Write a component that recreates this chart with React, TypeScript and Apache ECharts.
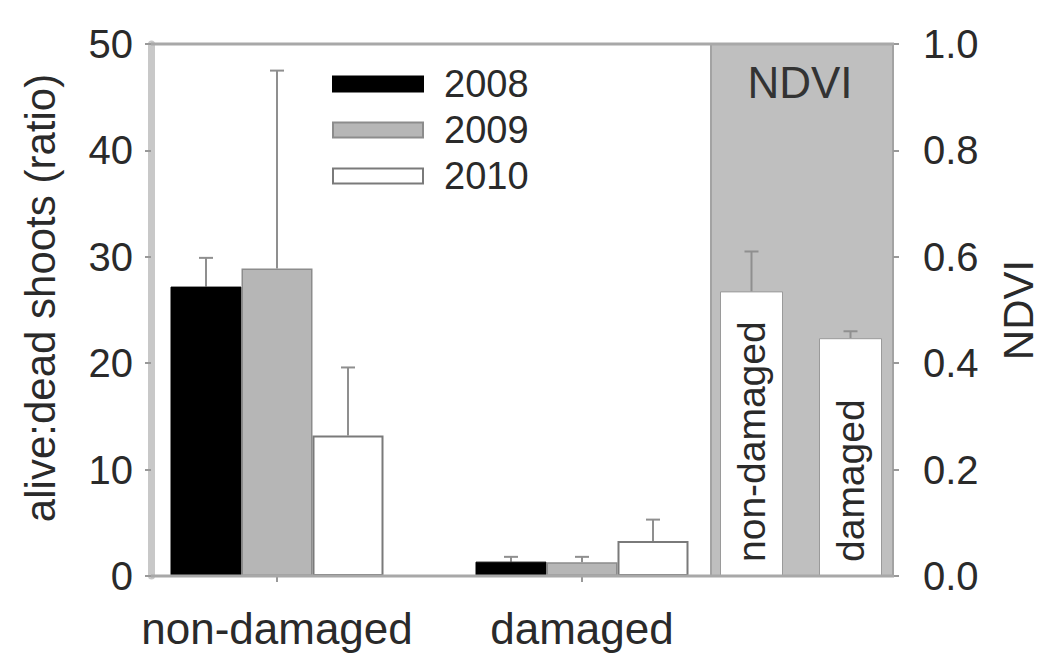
import React, { useEffect, useRef } from "react";
import * as echarts from "echarts";

// ---- data ----
const categories = ["non-damaged", "damaged"];
const years = ["2008", "2009", "2010"];
const ratio2008 = [27.2, 1.35];
const ratio2009 = [28.9, 1.3];
const ratio2010 = [13.2, 3.3];
const err2008 = [2.7, 0.45];
const err2009 = [18.6, 0.5];
const err2010 = [6.4, 2.0];
const ndviCategories = ["non-damaged", "damaged"];
const ndviValues = [0.535, 0.447];
const ndviErr = [0.075, 0.013];
const ratioAxis = { min: 0, max: 50, interval: 10 };
const ndviAxis = { min: 0, max: 1, interval: 0.2 };

const FONT = "'Liberation Sans', Arial, sans-serif";
const TXT = "#2a2a2a";
const BAR_W = 71;
const NDVI_BAR_W = 63;

const yearStyles = [
  { color: "#000000", borderColor: "#000000", borderWidth: 1 },
  { color: "#b6b6b6", borderColor: "#8c8c8c", borderWidth: 1.5 },
  { color: "#ffffff", borderColor: "#7a7a7a", borderWidth: 2 },
];

function errSeries(name: string, vals: number[], errs: number[], offset: number, xIdx: number, yIdx: number) {
  return {
    type: "custom",
    name: name,
    xAxisIndex: xIdx,
    yAxisIndex: yIdx,
    silent: true,
    z: 1,
    encode: { x: 0, y: 1 },
    data: vals.map((v, i) => [i, v, errs[i]]),
    renderItem: (params: any, api: any) => {
      const i = api.value(0);
      const v = api.value(1);
      const e = api.value(2);
      const base = api.coord([i, v]);
      const top = api.coord([i, v + e]);
      const x = base[0] + offset;
      return {
        type: "group",
        children: [
          { type: "line", shape: { x1: x, y1: base[1], x2: x, y2: top[1] }, style: { stroke: "#8f8f8f", lineWidth: 2 } },
          { type: "line", shape: { x1: x - 7, y1: top[1], x2: x + 7, y2: top[1] }, style: { stroke: "#8f8f8f", lineWidth: 2 } },
        ],
      };
    },
  };
}

export default function App() {
  const ref = useRef<HTMLDivElement>(null);
  useEffect(() => {
    if (!ref.current) return;
    const chart = echarts.init(ref.current, null, { renderer: "svg" });
    const ratioData = [ratio2008, ratio2009, ratio2010];
    const errData = [err2008, err2009, err2010];
    const option: any = {
      animation: false,
      backgroundColor: "#ffffff",
      textStyle: { fontFamily: FONT },
      grid: [
        { left: 124.5, width: 610, top: 44, bottom: 80, containLabel: false },
        { left: 702, width: 198, top: 44, bottom: 80, containLabel: false },
      ],
      legend: {
        orient: "vertical",
        left: 332,
        top: 64,
        itemWidth: 90,
        itemHeight: 15,
        itemGap: 6,
        padding: 0,
        icon: "rect",
        data: years,
        textStyle: { fontFamily: FONT, fontSize: 38, color: TXT, lineHeight: 40, padding: [0, 0, 0, 16] },
      },
      xAxis: [
        {
          type: "category",
          gridIndex: 0,
          data: categories,
          axisLine: { show: false },
          axisTick: { show: true, alignWithLabel: true, length: 6, lineStyle: { color: "#999", width: 2 } },
          axisLabel: { interval: 0, fontFamily: FONT, fontSize: 44, color: TXT, margin: 30 },
        },
        {
          type: "category",
          gridIndex: 1,
          data: ndviCategories,
          axisLine: { show: false },
          axisTick: { show: false },
          axisLabel: { show: false },
        },
      ],
      yAxis: [
        {
          type: "value",
          gridIndex: 0,
          position: "left",
          offset: -26.5,
          min: ratioAxis.min,
          max: ratioAxis.max,
          interval: ratioAxis.interval,
          name: "alive:dead shoots (ratio)",
          nameLocation: "middle",
          nameRotate: 90,
          nameGap: 90,
          nameTextStyle: { fontFamily: FONT, fontSize: 42, color: TXT, padding: [0, 0, 0, 24] },
          splitLine: { show: false },
          axisLine: { show: true, lineStyle: { color: "#c8c8c8", width: 7 } },
          axisTick: { show: true, length: 6, lineStyle: { color: "#999", width: 2 } },
          axisLabel: { fontFamily: FONT, fontSize: 40, color: TXT, margin: 18 },
        },
        {
          type: "value",
          gridIndex: 1,
          position: "right",
          offset: -7,
          min: ndviAxis.min,
          max: ndviAxis.max,
          interval: ndviAxis.interval,
          name: "NDVI",
          nameLocation: "middle",
          nameRotate: 90,
          nameGap: 104,
          nameTextStyle: { fontFamily: FONT, fontSize: 42, color: TXT },
          splitLine: { show: false },
          axisLine: { show: false },
          axisTick: { show: true, length: 6, lineStyle: { color: "#999", width: 2 } },
          axisLabel: { fontFamily: FONT, fontSize: 40, color: TXT, margin: 30, formatter: (v: number) => v.toFixed(1) },
        },
      ],
      graphic: [
        {
          type: "rect",
          z: -10,
          shape: { x: 711, y: 44, width: 182, height: 532 },
          style: { fill: "#bfbfbf", stroke: "#a3a3a3", lineWidth: 2 },
        },
        {
          type: "line",
          z: 10,
          shape: { x1: 151, y1: 44, x2: 894, y2: 44 },
          style: { stroke: "#a8a8a8", lineWidth: 3 },
        },
        {
          type: "line",
          z: 10,
          shape: { x1: 151, y1: 576, x2: 894, y2: 576 },
          style: { stroke: "#a8a8a8", lineWidth: 3 },
        },
        {
          type: "text",
          z: 10,
          x: 800,
          y: 82,
          style: { text: "NDVI", fontFamily: FONT, fontSize: 44, fill: "#333", align: "center", verticalAlign: "middle" },
        },
      ],
      series: [
        ...years.map((y, k) => ({
          type: "bar",
          name: y,
          xAxisIndex: 0,
          yAxisIndex: 0,
          data: ratioData[k],
          barWidth: BAR_W,
          barGap: "0%",
          itemStyle: yearStyles[k],
          z: 2,
        })),
        ...years.map((y, k) => errSeries(y + " err", ratioData[k], errData[k], (k - 1) * BAR_W, 0, 0)),
        {
          type: "bar",
          name: "NDVI",
          xAxisIndex: 1,
          yAxisIndex: 1,
          data: ndviValues,
          barWidth: NDVI_BAR_W,
          itemStyle: { color: "#ffffff", borderColor: "#9a9a9a", borderWidth: 1 },
          label: {
            show: true,
            position: "insideBottom",
            rotate: 90,
            align: "left",
            verticalAlign: "middle",
            distance: 14,
            fontFamily: FONT,
            fontSize: 39,
            color: TXT,
            formatter: (p: any) => ndviCategories[p.dataIndex],
          },
          z: 2,
        },
        errSeries("NDVI err", ndviValues, ndviErr, 0, 1, 1),
      ],
    };
    chart.setOption(option);
    return () => chart.dispose();
  }, []);
  return <div ref={ref} style={{ position: "fixed", left: 0, top: 0, width: 1045, height: 656 }} />;
}
